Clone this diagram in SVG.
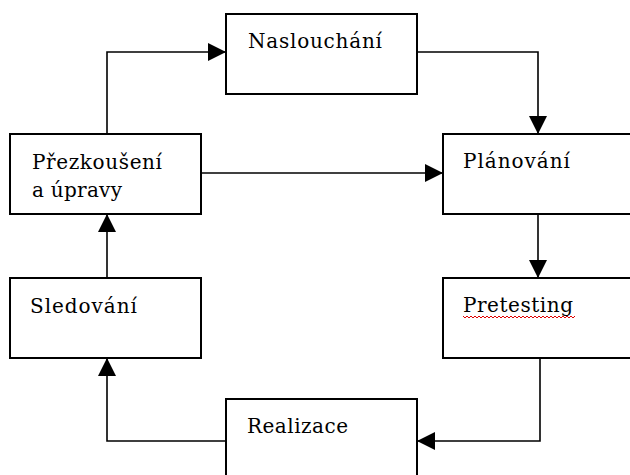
<svg xmlns="http://www.w3.org/2000/svg" width="630" height="475" viewBox="0 0 630 475">
<style>
.box{fill:#fff;stroke:#000;stroke-width:2}
.lbl{font-family:"DejaVu Serif","Liberation Serif",serif;font-size:20px;fill:#000}
.con{fill:none;stroke:#000;stroke-width:1.6}
</style>
<defs>
<marker id="ah" markerUnits="userSpaceOnUse" markerWidth="18" markerHeight="18" refX="18" refY="9" orient="auto">
<path d="M0,0 L18,9 L0,18 z" fill="#000"/>
</marker>
</defs>
<rect width="630" height="475" fill="#fff"/>
<g id="connectors">
<path class="con" d="M107,134 V52 H226" marker-end="url(#ah)"/>
<path class="con" d="M417,52 H538 V134" marker-end="url(#ah)"/>
<path class="con" d="M201,173 H443" marker-end="url(#ah)"/>
<path class="con" d="M538,214 V278" marker-end="url(#ah)"/>
<path class="con" d="M540,358 V441 H417" marker-end="url(#ah)"/>
<path class="con" d="M226,441 H107 V358" marker-end="url(#ah)"/>
<path class="con" d="M107,278 V214" marker-end="url(#ah)"/>
</g>
<g id="naslouchani">
<rect class="box" x="226" y="14" width="191" height="80"/>
<text class="lbl" x="248" y="48" textLength="134" lengthAdjust="spacing">Naslouchání</text>
</g>
<g id="planovani">
<rect class="box" x="443" y="134" width="200" height="80"/>
<text class="lbl" x="463" y="168" textLength="107" lengthAdjust="spacing">Plánování</text>
</g>
<g id="pretesting">
<rect class="box" x="443" y="278" width="200" height="80"/>
<text class="lbl" x="463" y="312" textLength="110" lengthAdjust="spacing">Pretesting</text>
<path d="M463,316 l2,2 l2,-2 l2,2 l2,-2 l2,2 l2,-2 l2,2 l2,-2 l2,2 l2,-2 l2,2 l2,-2 l2,2 l2,-2 l2,2 l2,-2 l2,2 l2,-2 l2,2 l2,-2 l2,2 l2,-2 l2,2 l2,-2 l2,2 l2,-2 l2,2 l2,-2 l2,2 l2,-2 l2,2 l2,-2 l2,2 l2,-2 l2,2 l2,-2 l2,2 l2,-2 l2,2 l2,-2 l2,2 l2,-2 l2,2 l2,-2 l2,2 l2,-2 l2,2 l2,-2 l2,2 l2,-2 l2,2 l2,-2 l2,2 l2,-2 l2,2 l2,-2" fill="none" stroke="#e00000" stroke-width="1"/>
</g>
<g id="realizace">
<rect class="box" x="226" y="399" width="191" height="82"/>
<text class="lbl" x="247" y="433" textLength="101" lengthAdjust="spacing">Realizace</text>
</g>
<g id="sledovani">
<rect class="box" x="10" y="278" width="191" height="80"/>
<text class="lbl" x="30" y="313" textLength="107" lengthAdjust="spacing">Sledování</text>
</g>
<g id="prezkouseni">
<rect class="box" x="10" y="134" width="191" height="80"/>
<text class="lbl" x="32" y="169" textLength="130" lengthAdjust="spacing">Přezkoušení</text>
<text class="lbl" x="32" y="197" textLength="90" lengthAdjust="spacing">a úpravy</text>
</g>
</svg>
